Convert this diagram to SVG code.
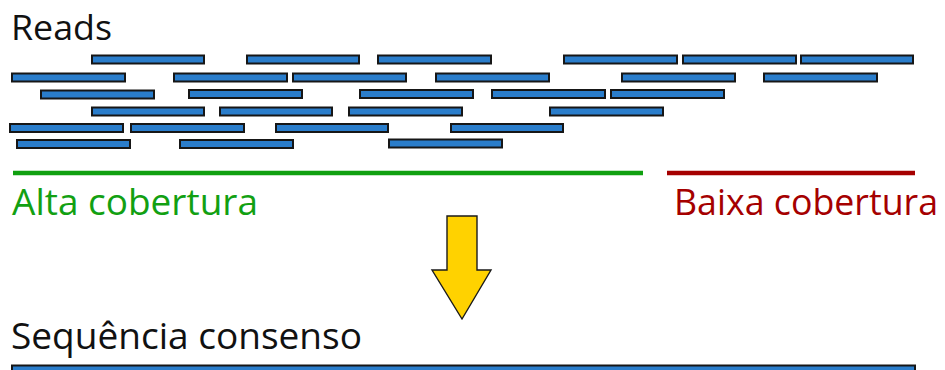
<svg xmlns="http://www.w3.org/2000/svg" width="945" height="370" viewBox="0 0 945 370">
  <style>
    .read { fill: #2a7dcb; stroke: #161616; stroke-width: 2; }
    .lbl { font-family: "Open Sans", "Noto Sans", sans-serif; }
    .title { fill: #111111; font-size: 34px; }
    .cov { font-size: 37px; }
  </style>
  <rect width="945" height="370" fill="#ffffff"/>

  <g id="reads-title">
    <text class="lbl title" x="11" y="40" textLength="101" lengthAdjust="spacingAndGlyphs">Reads</text>
  </g>

  <!-- short reads, laid out row by row -->
  <g id="reads">
    <g id="row1">
      <rect class="read" x="92" y="55.5" width="112" height="8"/>
      <rect class="read" x="247" y="55.5" width="112" height="8"/>
      <rect class="read" x="378" y="55.5" width="113" height="8"/>
      <rect class="read" x="564" y="55.5" width="113" height="8"/>
      <rect class="read" x="683" y="55.5" width="113" height="8"/>
      <rect class="read" x="801" y="55.5" width="112" height="8"/>
    </g>
    <g id="row2">
      <rect class="read" x="12" y="73.5" width="113" height="8"/>
      <rect class="read" x="174" y="73.5" width="113" height="8"/>
      <rect class="read" x="293" y="73.5" width="113" height="8"/>
      <rect class="read" x="436" y="73.5" width="113" height="8"/>
      <rect class="read" x="622" y="73.5" width="113" height="8"/>
      <rect class="read" x="764" y="73.5" width="113" height="8"/>
    </g>
    <g id="row3">
      <rect class="read" x="41" y="90.5" width="113" height="8"/>
      <rect class="read" x="189" y="90" width="113" height="8"/>
      <rect class="read" x="360" y="90" width="113" height="8"/>
      <rect class="read" x="492" y="90" width="113" height="8"/>
      <rect class="read" x="611" y="90" width="113" height="8"/>
    </g>
    <g id="row4">
      <rect class="read" x="92" y="107.5" width="112" height="8"/>
      <rect class="read" x="220" y="107.5" width="112" height="8"/>
      <rect class="read" x="349" y="107.5" width="113" height="8"/>
      <rect class="read" x="550" y="107.5" width="113" height="8"/>
    </g>
    <g id="row5">
      <rect class="read" x="10" y="124" width="113" height="8"/>
      <rect class="read" x="131" y="124" width="113" height="8"/>
      <rect class="read" x="276" y="124" width="112" height="8"/>
      <rect class="read" x="451" y="124" width="112" height="8"/>
    </g>
    <g id="row6">
      <rect class="read" x="17" y="140" width="113" height="8"/>
      <rect class="read" x="180" y="140" width="113" height="8"/>
      <rect class="read" x="389" y="139.5" width="113" height="8"/>
    </g>
  </g>

  <!-- coverage spans -->
  <g id="high-coverage">
    <line x1="13" y1="173" x2="643" y2="173" stroke="#10a010" stroke-width="4.5"/>
    <text class="lbl cov" x="12" y="215" fill="#12a012" textLength="246" lengthAdjust="spacingAndGlyphs">Alta cobertura</text>
  </g>
  <g id="low-coverage">
    <line x1="667" y1="173" x2="915" y2="173" stroke="#a50000" stroke-width="4.5"/>
    <text class="lbl cov" x="674" y="215" fill="#a50000" textLength="264" lengthAdjust="spacingAndGlyphs">Baixa cobertura</text>
  </g>

  <!-- block arrow -->
  <g id="arrow">
    <path d="M447,216 H477 V270 H491 L462,319 L432,270 H447 Z" fill="#ffd200" stroke="#1a1a1a" stroke-width="1.4" stroke-linejoin="miter"/>
  </g>

  <g id="consensus">
    <text class="lbl cov" x="11" y="349" fill="#111111" textLength="351" lengthAdjust="spacingAndGlyphs">Sequência consenso</text>
    <rect class="read" x="12" y="365.5" width="903" height="12"/>
  </g>
</svg>
